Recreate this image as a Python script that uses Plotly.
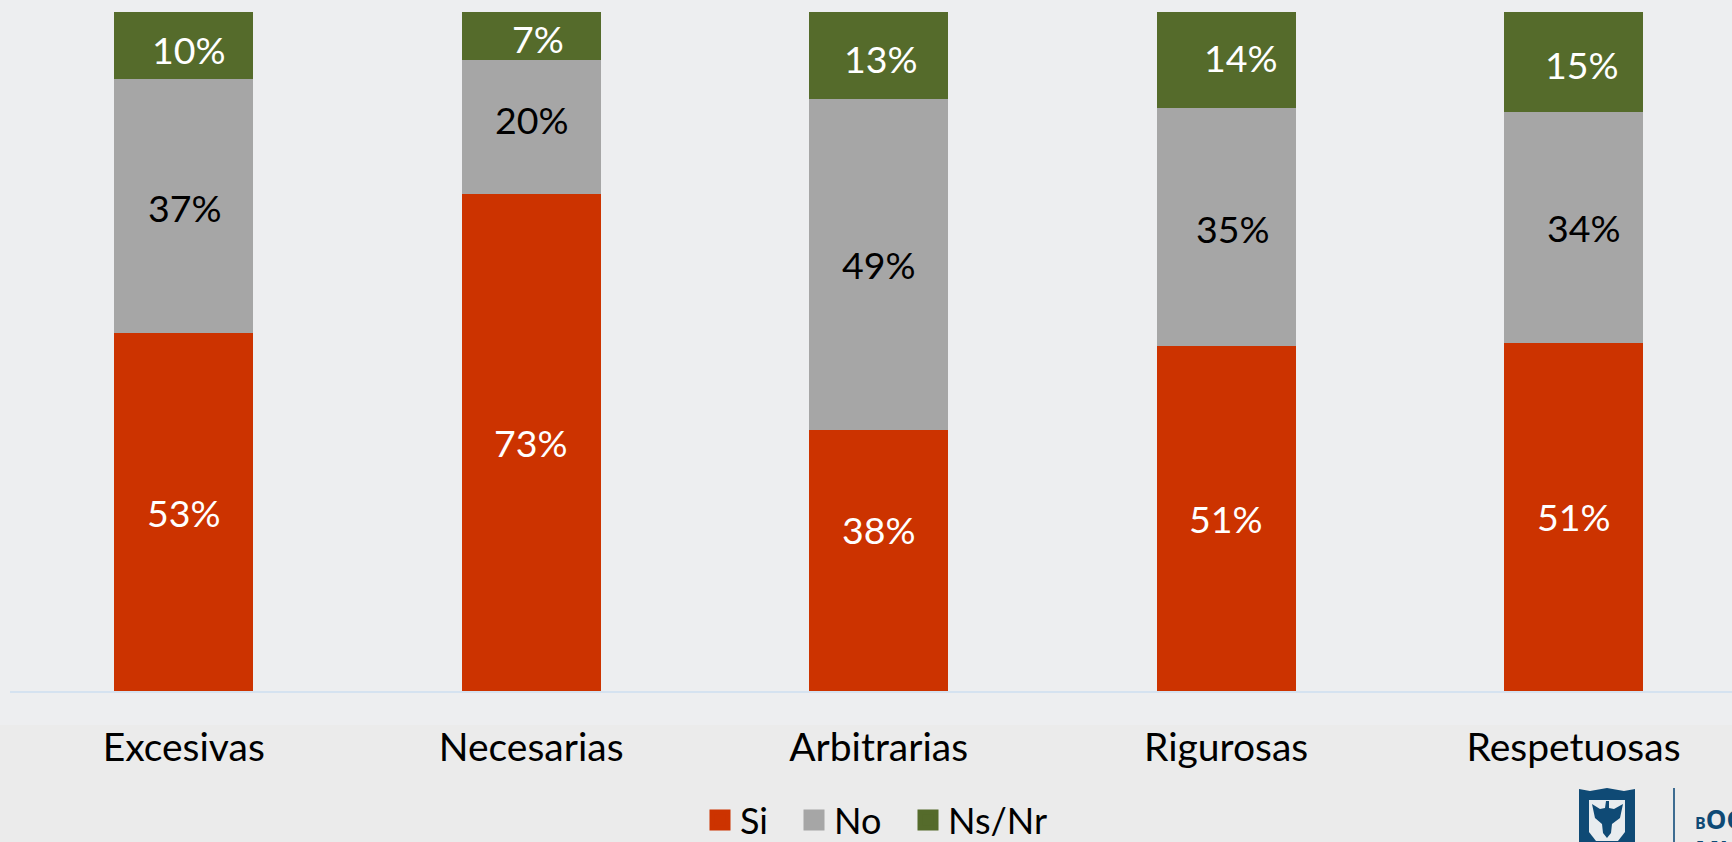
import plotly.graph_objects as go

categories = ["Excesivas", "Necesarias", "Arbitrarias", "Rigurosas", "Respetuosas"]
si = [52.7, 73.2, 38.4, 50.8, 51.3]
no = [37.4, 19.8, 48.8, 35.1, 34.0]
nsnr = [9.9, 7.0, 12.8, 14.1, 14.7]

RED, GREY, GREEN = "#CC3300", "#A6A6A6", "#556B2B"
series = [("Si", si, RED, "#FFFFFF"), ("No", no, GREY, "#000000"), ("Ns/Nr", nsnr, GREEN, "#FFFFFF")]
# hand placement of the percentage labels in the source slide (pixels from segment centre)
label_dx = {"Si": [0, 0, 0, 0, 0], "No": [1, 1, 0, 7, 10], "Ns/Nr": [5, 7, 2, 15, 8]}
label_dy = {"Si": [0, 0, 31, 0, 0], "No": [-1, 7, 0, -2, 0], "Ns/Nr": [-4, -3, -3, 2, -3]}
FONT = "Lato, Carlito, Calibri, sans-serif"
W, H = 1732, 842
M_L, M_T, M_B = 10, 12, 151
PW, PH = W - M_L, H - M_T - M_B

def px(x):
    return (x - M_L) / PW
def py(y):
    return (H - M_B - y) / PH

fig = go.Figure()
base = [0] * len(categories)
annotations = []
for name, vals, col, tc in series:
    fig.add_trace(go.Bar(name=name, x=categories, y=vals, marker=dict(color=col, line=dict(width=0)),
                         showlegend=False, hoverinfo="x+y+name"))
    for i, v in enumerate(vals):
        annotations.append(dict(x=categories[i], y=base[i] + v / 2, xref="x", yref="y", text=f"{v:.0f}%",
                                showarrow=False, xshift=label_dx[name][i], yshift=label_dy[name][i],
                                font=dict(family=FONT, size=37.5, color=tc)))
        base[i] += v
legend_ids = ["legend", "legend2", "legend3"]
for (name, vals, col, tc), lid in zip(series, legend_ids):
    fig.add_trace(go.Scatter(name=name, x=[None], y=[None], mode="markers", hoverinfo="skip", legend=lid,
                             marker=dict(symbol="square", size=16, color=col, line=dict(width=5, color=col))))

annotations += [
    dict(xref="paper", yref="paper", x=px(1693), y=py(839), xanchor="left", yanchor="bottom", showarrow=False,
         text="<span style='font-size:16px'>B</span>OG", font=dict(family="Open Sans", size=26, color="#0F4A75", weight="bold")),
    dict(xref="paper", yref="paper", x=px(1693), y=py(830), xanchor="left", yanchor="top", showarrow=False,
         text="MI", font=dict(family="Open Sans", size=26, color="#0F4A75", weight="bold")),
]

def paper_path(points):
    return "M" + " L".join(f"{px(x):.5f},{py(y):.5f}" for x, y in points) + " Z"

shield = [(1579, 789), (1590, 791), (1607, 788), (1624, 791), (1635, 789), (1635, 842), (1579, 842)]
inner = [(1589, 800), (1625, 800), (1625, 832), (1618, 841), (1596, 841), (1589, 832)]
eagle = [(1592, 804), (1600, 809), (1605, 808), (1606, 801), (1609, 801), (1609, 808), (1614, 809), (1623, 804), (1620, 818),
         (1612, 824), (1611, 833), (1607, 838), (1603, 833), (1602, 824), (1595, 818)]
shapes = [
    dict(type="rect", xref="paper", yref="paper", x0=px(0), x1=px(W), y0=py(H), y1=py(725),
         fillcolor="#EBEBEB", line_width=0, layer="below"),
    dict(type="path", xref="paper", yref="paper", path=paper_path(shield), fillcolor="#0F4A75", line_width=0),
    dict(type="path", xref="paper", yref="paper", path=paper_path(inner), fillcolor="#E8ECEF", line_width=0),
    dict(type="path", xref="paper", yref="paper", path=paper_path(eagle), fillcolor="#0F4A75", line_width=0),
    dict(type="line", xref="paper", yref="paper", x0=px(1674), x1=px(1674), y0=py(788), y1=py(842),
         line=dict(color="#3E6C91", width=2)),
]

legend_common = dict(yanchor="top", y=py(790), xanchor="left", bgcolor="rgba(0,0,0,0)",
                     font=dict(family=FONT, size=36), itemwidth=30)
fig.update_layout(
    width=W, height=H, barmode="stack", bargap=0.6,
    margin=dict(l=M_L, r=0, t=M_T, b=M_B, autoexpand=False),
    paper_bgcolor="#EDEEF0", plot_bgcolor="#EDEEF0",
    font=dict(family=FONT, color="#000000", size=36),
    legend=dict(x=px(700), **legend_common),
    legend2=dict(x=px(794), **legend_common),
    legend3=dict(x=px(908), **legend_common),
    shapes=shapes, annotations=annotations,
)
fig.update_xaxes(range=[-0.5, 4.456], showline=True, linecolor="#D5E2F0", linewidth=2,
                 ticks="", ticklabelstandoff=21, tickfont=dict(family=FONT, size=39, color="#000000"), showgrid=False)
fig.update_yaxes(range=[0, 100], visible=False, showgrid=False)
fig.write_html("out.html", config=dict(displayModeBar=False),
               post_script="document.body.style.margin='0';document.body.style.overflow='hidden';")
